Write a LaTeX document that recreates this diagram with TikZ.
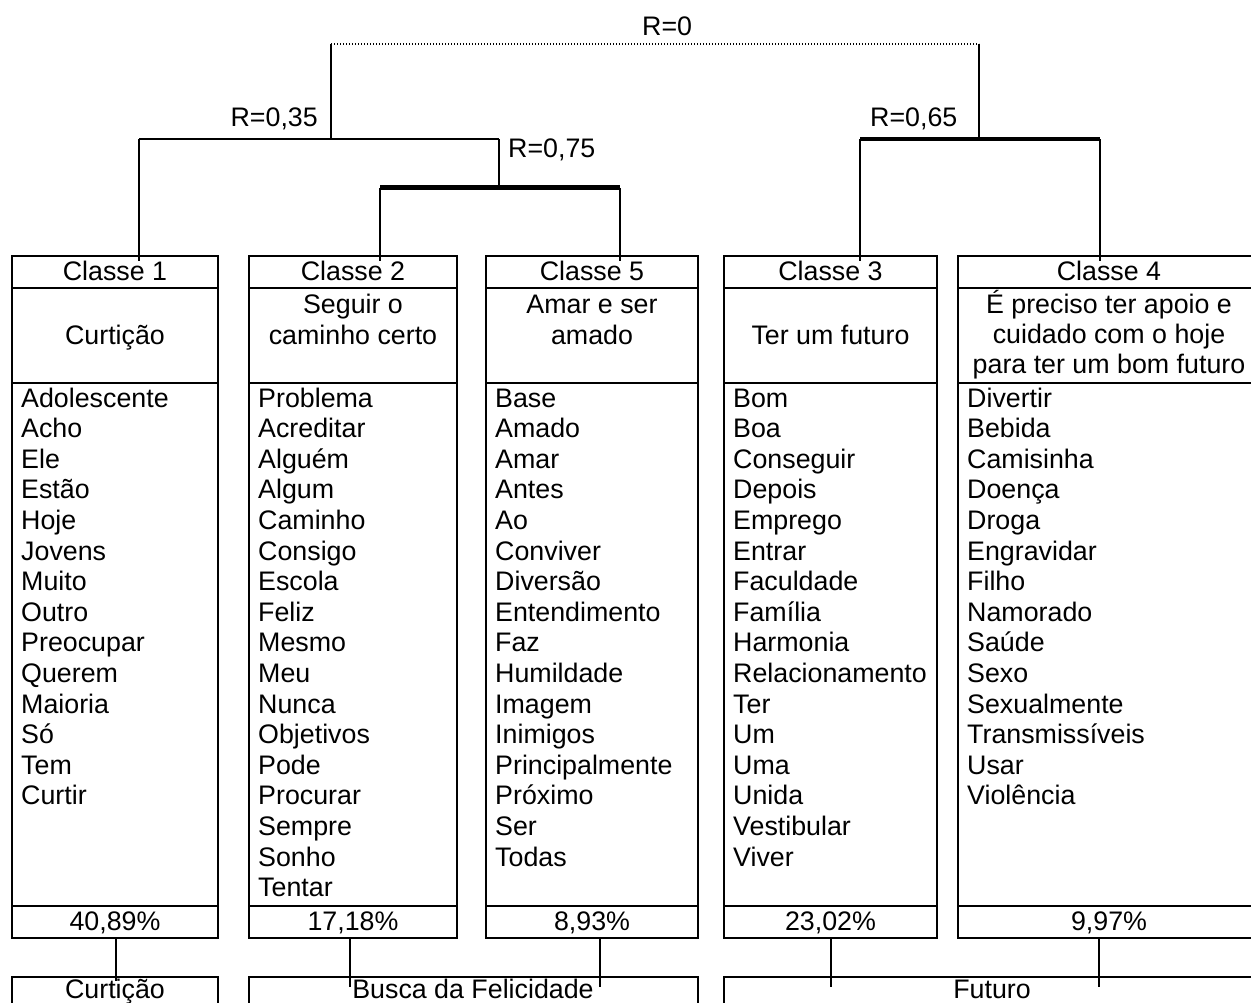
\documentclass[tikz,border=0pt]{standalone}
\usepackage{fontspec}
\setmainfont{Liberation Sans}
\begin{document}
\begin{tikzpicture}[x=1pt,y=-1pt,
  cell/.style={draw,line width=2pt,rectangle,anchor=north west,inner sep=0pt,outer sep=0pt},
  txt/.style={anchor=base,inner sep=0pt,font=\fontsize{26.8}{30.6}\selectfont},
  word/.style={txt,anchor=base west},
  link/.style={line width=1.7pt},
  strongA/.style={line width=5pt},
  strongB/.style={line width=3.8pt},
  dotline/.style={line width=1.3pt,dash pattern=on 1.3pt off 1.7pt},
  frame/.style={line width=2pt}]
\useasboundingbox (0,0) rectangle (1251,1003);

% ---- class boxes ----
\node[cell,minimum width=206pt,minimum height=32pt] (h1) at (12,256) {};
\node[cell,minimum width=206pt,minimum height=95pt] (t1) at (12,288) {};
\node[cell,minimum width=206pt,minimum height=523pt] (l1) at (12,383) {};
\node[cell,minimum width=206pt,minimum height=32pt] (p1) at (12,906) {};

\node[cell,minimum width=208pt,minimum height=32pt] (h2) at (249,256) {};
\node[cell,minimum width=208pt,minimum height=95pt] (t2) at (249,288) {};
\node[cell,minimum width=208pt,minimum height=523pt] (l2) at (249,383) {};
\node[cell,minimum width=208pt,minimum height=32pt] (p2) at (249,906) {};

\node[cell,minimum width=212pt,minimum height=32pt] (h5) at (486,256) {};
\node[cell,minimum width=212pt,minimum height=95pt] (t5) at (486,288) {};
\node[cell,minimum width=212pt,minimum height=523pt] (l5) at (486,383) {};
\node[cell,minimum width=212pt,minimum height=32pt] (p5) at (486,906) {};

\node[cell,minimum width=213pt,minimum height=32pt] (h3) at (724,256) {};
\node[cell,minimum width=213pt,minimum height=95pt] (t3) at (724,288) {};
\node[cell,minimum width=213pt,minimum height=523pt] (l3) at (724,383) {};
\node[cell,minimum width=213pt,minimum height=32pt] (p3) at (724,906) {};

\node[cell,minimum width=302pt,minimum height=32pt] (h4) at (958,256) {};
\node[cell,minimum width=302pt,minimum height=95pt] (t4) at (958,288) {};
\node[cell,minimum width=302pt,minimum height=523pt] (l4) at (958,383) {};
\node[cell,minimum width=302pt,minimum height=32pt] (p4) at (958,906) {};

% headers
\node[txt] (h1t) at (115,281) {Classe 1};
\node[txt] (h2t) at (353,281) {Classe 2};
\node[txt] (h5t) at (592,281) {Classe 5};
\node[txt] (h3t) at (830.5,281) {Classe 3};
\node[txt] (h4t) at (1109,281) {Classe 4};

% titles
\node[txt] (t1a) at (115,344) {Curtição};
\node[txt] (t2a) at (353,313) {Seguir o};
\node[txt] (t2b) at (353,344) {caminho certo};
\node[txt] (t5a) at (592,313) {Amar e ser};
\node[txt] (t5b) at (592,344) {amado};
\node[txt] (t3a) at (830.5,344) {Ter um futuro};
\node[txt] (t4a) at (1109,313) {É preciso ter apoio e};
\node[txt] (t4b) at (1109,343) {cuidado com o hoje};
\node[txt] (t4c) at (1109,373) {para ter um bom futuro};

% word lists
\foreach \w [count=\i] in {Adolescente,Acho,Ele,Estão,Hoje,Jovens,Muito,Outro,Preocupar,Querem,Maioria,Só,Tem,Curtir}
  \node[word] (wa\i) at (21,{407+30.6*(\i-1)}) {\w};
\foreach \w [count=\i] in {Problema,Acreditar,Alguém,Algum,Caminho,Consigo,Escola,Feliz,Mesmo,Meu,Nunca,Objetivos,Pode,Procurar,Sempre,Sonho,Tentar}
  \node[word] (wb\i) at (258,{407+30.6*(\i-1)}) {\w};
\foreach \w [count=\i] in {Base,Amado,Amar,Antes,Ao,Conviver,Diversão,Entendimento,Faz,Humildade,Imagem,Inimigos,Principalmente,Próximo,Ser,Todas}
  \node[word] (wc\i) at (495,{407+30.6*(\i-1)}) {\w};
\foreach \w [count=\i] in {Bom,Boa,Conseguir,Depois,Emprego,Entrar,Faculdade,Família,Harmonia,Relacionamento,Ter,Um,Uma,Unida,Vestibular,Viver}
  \node[word] (wd\i) at (733,{407+30.6*(\i-1)}) {\w};
\foreach \w [count=\i] in {Divertir,Bebida,Camisinha,Doença,Droga,Engravidar,Filho,Namorado,Saúde,Sexo,Sexualmente,Transmissíveis,Usar,Violência}
  \node[word] (we\i) at (967,{407+30.6*(\i-1)}) {\w};

% percentages
\node[txt] (p1t) at (115,930) {40,89\%};
\node[txt] (p2t) at (353,930) {17,18\%};
\node[txt] (p5t) at (592,930) {8,93\%};
\node[txt] (p3t) at (830.5,930) {23,02\%};
\node[txt] (p4t) at (1109,930) {9,97\%};

% ---- dendrogram ----
\coordinate (rA) at (331,44);
\coordinate (rB) at (979,44);
\coordinate (a1) at (331,139);
\coordinate (a1L) at (139,139);
\coordinate (a1R) at (499,139);
\coordinate (a2) at (499,186);
\coordinate (a2L) at (380,188);
\coordinate (a2R) at (620,188);
\coordinate (b1) at (979,139);
\coordinate (b1L) at (860,139);
\coordinate (b1R) at (1100,139);

\draw[dotline] (rA) -- (rB);
\draw[link] (rA) -- (a1);
\draw[link] (rB) -- (b1);
\draw[link] (a1L) -- (a1R);
\draw[link] (a1R) -- (a2);
\draw[strongA] (a2L) -- (a2R);
\draw[strongB] (b1L) -- (b1R);
\draw[link] (a1L) -- ([yshift=-5pt]a1L |- h1.north);
\draw[link] (a2L) -- ([yshift=-5pt]a2L |- h2.north);
\draw[link] (a2R) -- ([yshift=-5pt]a2R |- h5.north);
\draw[link] (b1L) -- ([yshift=-5pt]b1L |- h3.north);
\draw[link] (b1R) -- ([yshift=-5pt]b1R |- h4.north);

\node[txt,anchor=base west] (l0) at (642,36) {R=0};
\node[txt,anchor=base east] (l35) at (318,127) {R=0,35};
\node[txt,anchor=base west] (l75) at (508,158) {R=0,75};
\node[txt,anchor=base west] (l65) at (870,127) {R=0,65};

% ---- bottom groups ----
\draw[frame] (12,1004) |- (218,977) -- (218,1004);
\draw[frame] (249,1004) |- (698,977) -- (698,1004);
\draw[frame] (724,1004) |- (1262,977);
\node[txt] (g1) at (115,998) {Curtição};
\node[txt] (g2) at (473,998) {Busca da Felicidade};
\node[txt] (g3) at (992,998) {Futuro};

\coordinate (c1) at (116,981);
\coordinate (c2) at (350,987);
\coordinate (c5) at (600,987);
\coordinate (c3) at (831,987);
\coordinate (c4) at (1099,987);
\draw[link] (c1 |- p1.south) -- (c1);
\draw[link] (c2 |- p2.south) -- (c2);
\draw[link] (c5 |- p5.south) -- (c5);
\draw[link] (c3 |- p3.south) -- (c3);
\draw[link] (c4 |- p4.south) -- (c4);
\end{tikzpicture}
\end{document}
